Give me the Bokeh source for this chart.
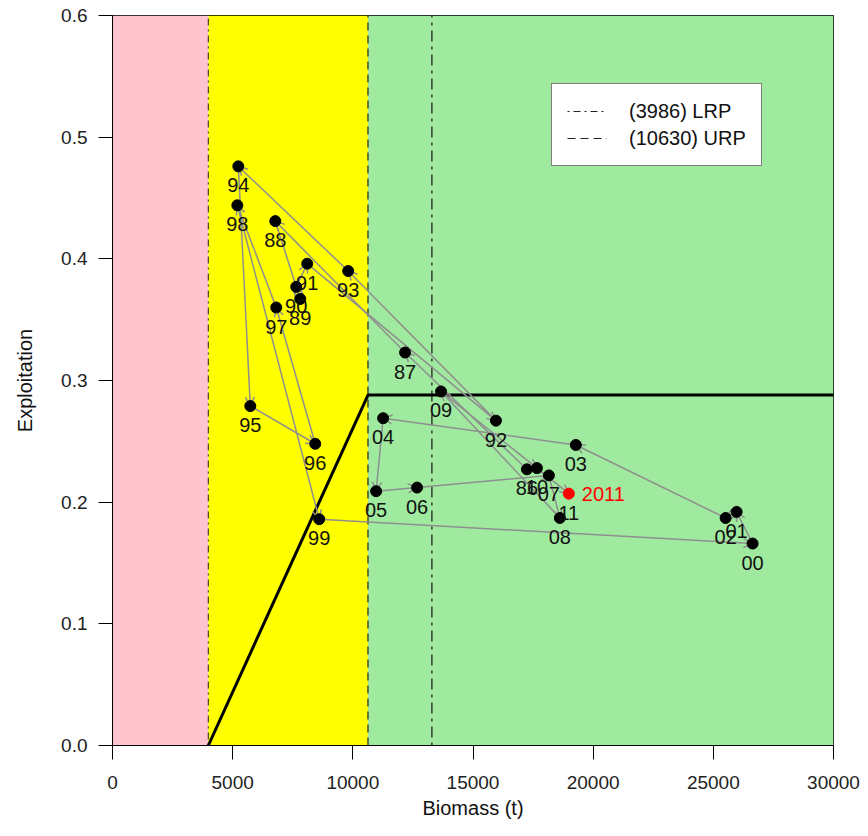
from bokeh.plotting import figure
from bokeh.models import (Range1d, FixedTicker, NumeralTickFormatter, Arrow, OpenHead,
                          ColumnDataSource, Legend, LegendItem)
from bokeh.embed import file_html
from bokeh.resources import INLINE
from bokeh.core.properties import value

# ---------------- data ----------------
years = ["86", "87", "88", "89", "90", "91", "92", "93", "94", "95", "96", "97", "98",
         "99", "00", "01", "02", "03", "04", "05", "06", "07", "08", "09", "10", "11"]
biomass = [17243, 12174, 6773, 7811, 7645, 8102, 15955, 9806, 5235, 5734, 8435, 6814, 5194,
           8601, 26634, 25969, 25512, 19279, 11260, 10969, 12673, 18157, 18614, 13670, 17659, 18988]
exploitation = [0.227, 0.323, 0.431, 0.367, 0.377, 0.396, 0.267, 0.390, 0.476, 0.279, 0.248, 0.360, 0.444,
                0.186, 0.166, 0.192, 0.187, 0.247, 0.269, 0.209, 0.212, 0.222, 0.187, 0.291, 0.228, 0.207]
last_year_label = "2011"

LRP = 3986
URP = 10630
REF_LINE = 13290
HCR_EXPLOIT = 0.288
X_MAX = 30000
Y_MAX = 0.6
x_ticks = [0, 5000, 10000, 15000, 20000, 25000, 30000]
y_ticks = [0.0, 0.1, 0.2, 0.3, 0.4, 0.5, 0.6]
legend_labels = ["(3986) LRP", "(10630) URP"]

FONT = "Liberation Sans"

# ---------------- figure ----------------
p = figure(frame_width=721, frame_height=730,
           x_range=Range1d(0, X_MAX), y_range=Range1d(0, Y_MAX),
           output_backend="svg", toolbar_location=None,
           min_border_left=112, min_border_right=27, min_border_top=15, min_border_bottom=83)
p.background_fill_color = "white"
p.border_fill_color = "white"
p.outline_line_color = "black"
p.outline_line_width = 1
p.grid.visible = False

# zones
p.quad(left=[0, LRP, URP], right=[LRP, URP, X_MAX], bottom=[0, 0, 0], top=[Y_MAX] * 3,
       fill_color=["#FFC4CE", "#FFFF00", "#A0EAA0"], line_color=None, level="image")

# reference lines
lrp_r = p.line([LRP, LRP], [0, Y_MAX], line_color="#222222", line_width=1,
               line_dash="2 4 7 4", level="image")
urp_r = p.line([URP, URP], [0, Y_MAX], line_color="#222222", line_width=1.2,
               line_dash="8 5", level="image")
p.line([REF_LINE, REF_LINE], [0, Y_MAX], line_color="#222222", line_width=1.3,
       line_dash="3 5 11 5", level="image")

# harvest control rule
p.line([LRP, URP, X_MAX], [0, HCR_EXPLOIT, HCR_EXPLOIT], line_color="black",
       line_width=3, level="image")

# arrows between consecutive years
arr_src = ColumnDataSource(dict(x0=biomass[:-1], y0=exploitation[:-1],
                                x1=biomass[1:], y1=exploitation[1:]))
arrows = Arrow(end=OpenHead(size=9, line_color="#8f8f8f", line_width=1.5),
               x_start="x0", y_start="y0", x_end="x1", y_end="y1", source=arr_src,
               line_color="#8f8f8f", line_width=1.5, level="underlay")
p.add_layout(arrows)

# points
colors = ["black"] * (len(years) - 1) + ["red"]
pt_src = ColumnDataSource(dict(x=biomass, y=exploitation, lab=years, c=colors))
p.scatter("x", "y", source=pt_src, size=11, fill_color="c", line_color="c")

# year labels
p.text("x", "y", text="lab", source=pt_src, text_align="center", text_baseline="middle",
       y_offset=19, text_font=value(FONT), text_font_size="20px", text_color="#111111")
p.text(x=[biomass[-1]], y=[exploitation[-1]], text=[last_year_label], x_offset=13,
       text_align="left", text_baseline="middle", text_font=value(FONT),
       text_font_size="20px", text_color="red")

# axes
for ax in (p.xaxis, p.yaxis):
    ax.major_label_text_font = FONT
    ax.major_label_text_font_size = "19px"
    ax.major_label_text_color = "#222222"
    ax.axis_label_text_font = FONT
    ax.axis_label_text_font_size = "20px"
    ax.axis_label_text_font_style = "normal"
    ax.axis_label_text_color = "#111111"
    ax.major_tick_in = 0
    ax.major_tick_out = 14
    ax.minor_tick_in = 0
    ax.minor_tick_out = 0
    ax.axis_line_color = "black"
    ax.major_tick_line_color = "black"

p.xaxis.ticker = FixedTicker(ticks=x_ticks)
p.yaxis.ticker = FixedTicker(ticks=y_ticks)
p.yaxis.formatter = NumeralTickFormatter(format="0.0")
p.xaxis.axis_label = "Biomass (t)"
p.yaxis.axis_label = "Exploitation"
p.xaxis.major_label_standoff = 16
p.yaxis.major_label_standoff = 11
p.xaxis.axis_label_standoff = 5
p.yaxis.axis_label_standoff = 22

# legend
legend = Legend(items=[LegendItem(label=legend_labels[0], renderers=[lrp_r]),
                       LegendItem(label=legend_labels[1], renderers=[urp_r])],
                location=(439, 579), margin=0, padding=15, spacing=3,
                glyph_width=40, glyph_height=24, label_height=24, label_standoff=22,
                label_text_font=FONT, label_text_font_size="20px",
                label_text_color="#111111",
                border_line_color="black", border_line_width=1,
                background_fill_color="white", background_fill_alpha=1.0)
p.add_layout(legend)

open("out.html", "w").write(file_html(p, INLINE))
